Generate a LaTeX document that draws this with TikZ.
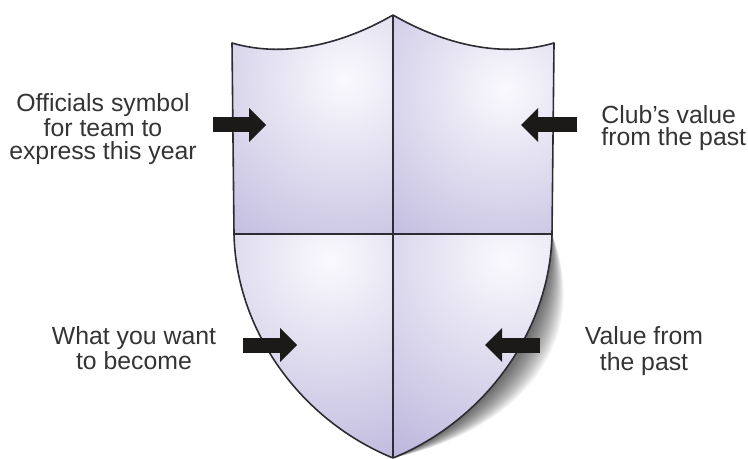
\documentclass[tikz,border=0pt]{standalone}
\usepackage{fontspec}
\setmainfont{Liberation Sans}
\usetikzlibrary{arrows.meta}

\definecolor{shieldDark}{RGB}{190,184,221}
\definecolor{shieldLight}{RGB}{250,249,253}
\definecolor{lineGray}{RGB}{44,44,50}
\definecolor{textGray}{RGB}{52,52,52}
\definecolor{arrowBlack}{RGB}{28,26,24}

\begin{document}
\begin{tikzpicture}[x=0.5pt, y=-0.5pt,
  fatarrow/.style={draw=arrowBlack, line width=7.5pt, -{Triangle[length=8.5pt, width=17pt, line width=0pt]}},
  sidetext/.style={text=textGray, inner sep=0pt, font=\fontsize{12.4pt}{11.25pt}\selectfont},
  sidetextwide/.style={sidetext, font=\fontsize{12.4pt}{12.75pt}\selectfont},
  rim/.style={draw=lineGray, line width=0.8pt, line join=round}]
  \useasboundingbox (0,0) rectangle (748,459);

  % 1. key points of the shield
  \coordinate (peak) at (393,15);
  \coordinate (cornerL) at (232,43);
  \coordinate (cornerR) at (554,43);
  \coordinate (midL) at (234,234);
  \coordinate (midR) at (552,234);
  \coordinate (mid) at (393,234);
  \coordinate (tip) at (393,458);
  \def\outline{(cornerL) .. controls (290,60) and (350,40) .. (peak)
    .. controls (436,40) and (496,60) .. (cornerR) -- (midR)
    .. controls (550,330) and (486,420) .. (tip)
    .. controls (300,420) and (236,330) .. (midL) -- cycle}

  % 2. soft shadow on the right
  \begin{scope}
    \clip (peak) .. controls (436,40) and (496,60) .. (cornerR) -- (748,52)
      -- (748,459) -- (0,459) -- (0,0) -- (393,0) -- cycle;
    \foreach \i in {1,...,16}
      \fill[black, opacity=0.05, shift={(\i*2.6,\i*0.5)}] \outline;
  \end{scope}

  % 3. the four fields
  \begin{scope}
    \clip (mid) -- (midL) -- (cornerL) .. controls (290,60) and (350,40) .. (peak) -- cycle;
    \fill[shieldDark] (0,0) rectangle (748,459);
    \shade[inner color=shieldLight, outer color=shieldDark] (345,80) circle[radius=105pt];
  \end{scope}
  \begin{scope}
    \clip (peak) .. controls (436,40) and (496,60) .. (cornerR) -- (midR) -- (mid) -- cycle;
    \fill[shieldDark] (0,0) rectangle (748,459);
    \shade[inner color=shieldLight, outer color=shieldDark] (505,90) circle[radius=100pt];
  \end{scope}
  \begin{scope}
    \clip (midL) .. controls (236,330) and (300,420) .. (tip) -- (mid) -- cycle;
    \fill[shieldDark] (0,0) rectangle (748,459);
    \shade[inner color=shieldLight, outer color=shieldDark] (330,260) circle[radius=110pt];
  \end{scope}
  \begin{scope}
    \clip (mid) -- (tip) .. controls (486,420) and (550,330) .. (midR) -- cycle;
    \fill[shieldDark] (0,0) rectangle (748,459);
    \shade[inner color=shieldLight, outer color=shieldDark] (505,260) circle[radius=110pt];
  \end{scope}

  % 4. outline and dividers
  \draw[rim] \outline;
  \draw[rim, line width=0.9pt] (peak) -- (tip);
  \draw[rim] (midL) -- (midR);

  % 5. texts
  \node[sidetext, align=center] (official) at (103,129)
    {Officials symbol\\for team to\\express this year};
  \node[sidetext, align=left, anchor=west] (club) at (601,128)
    {Club’s value\\from the past};
  \node[sidetextwide, align=center] (become) at (134,348)
    {What you want\\to become};
  \node[sidetextwide, align=center] (past) at (644,351)
    {Value from\\the past};

  % 6. block arrows
  \coordinate (officialTail) at (213,125);  \coordinate (officialTip) at (266,125);
  \coordinate (clubTail) at (577,125);      \coordinate (clubTip) at (521,125);
  \coordinate (becomeTail) at (243,345);    \coordinate (becomeTip) at (297,345);
  \coordinate (pastTail) at (540,345);      \coordinate (pastTip) at (485,345);
  \draw[fatarrow] (officialTail) -- (officialTip);
  \draw[fatarrow] (clubTail) -- (clubTip);
  \draw[fatarrow] (becomeTail) -- (becomeTip);
  \draw[fatarrow] (pastTail) -- (pastTip);
\end{tikzpicture}
\end{document}
